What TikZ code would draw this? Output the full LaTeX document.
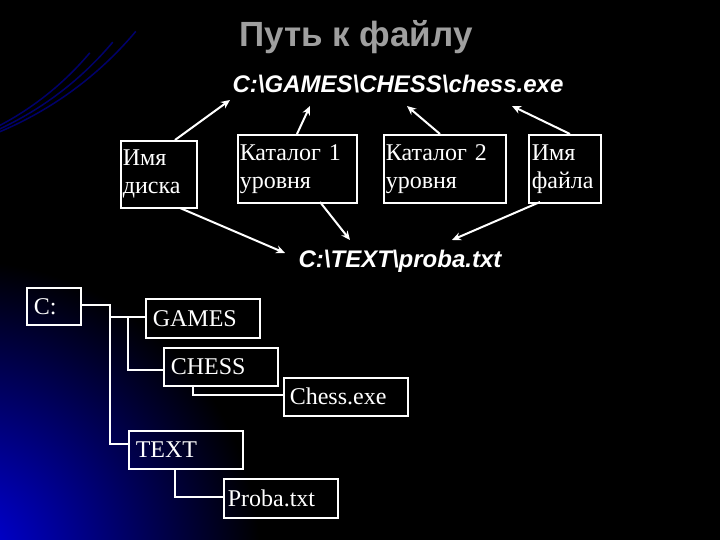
\documentclass[tikz,border=0pt]{standalone}
\usepackage{fontspec}
\usetikzlibrary{arrows.meta}
\setmainfont{Liberation Serif}
\newfontfamily\hsans{Liberation Sans}
\begin{document}
\begin{tikzpicture}[x=1pt,y=-1pt,
  box/.style={draw=white,line width=1.6pt,text=white,inner sep=0pt,anchor=north west,align=left,font=\fontsize{24}{28}\selectfont},
  wire/.style={draw=white,line width=1.6pt},
  arr/.style={draw=white,line width=2pt,-{Stealth[length=9pt,width=8pt]}}]
\fill[black] (0,0) rectangle (720,540);
\begin{scope}
\clip (0,0) rectangle (720,540);
\shade[inner color=blue!90!black,outer color=black] (-40,560) circle (300);
\foreach \r in {300,330,360}{\draw[blue!70!black,line width=1.5pt,opacity=.6] (-140,160) arc[start angle=90,end angle=40,radius=\r];}
\end{scope}
\useasboundingbox (0,0) rectangle (720,540);
\node[text=gray!75,font=\hsans\bfseries\fontsize{35}{38}\selectfont] (title) at (356,37) {Путь к файлу};
\node[text=white,font=\hsans\bfseries\itshape\fontsize{24}{26}\selectfont] (p1) at (398,84) {C:\textbackslash GAMES\textbackslash CHESS\textbackslash chess.exe};
\node[text=white,font=\hsans\bfseries\itshape\fontsize{24}{26}\selectfont] (p2) at (400,261) {C:\textbackslash TEXT\textbackslash proba.txt};
\node[box,minimum width=76,minimum height=67,text width=72,inner xsep=2] (disk) at (120,140) {Имя\\диска};
\node[box,minimum width=119,minimum height=68,text width=115,inner xsep=2] (k1) at (237,134) {Каталог 1\\уровня};
\node[box,minimum width=122,minimum height=68,text width=118,inner xsep=2] (k2) at (383,134) {Каталог 2\\уровня};
\node[box,minimum width=72,minimum height=68,text width=66,inner xsep=3] (fn) at (528,134) {Имя\\файла};
\coordinate (a1) at (230,100); \coordinate (a2) at (310,106);
\coordinate (a3) at (407,106); \coordinate (a4) at (512,106);
\coordinate (b1) at (285,253); \coordinate (b2) at (350,240); \coordinate (b3) at (452,240);
\draw[arr] (175,140) -- (a1);
\draw[arr] (297,134) -- (a2);
\draw[arr] (440,134) -- (a3);
\draw[arr] (570,134) -- (a4);
\draw[arr] (180,208) -- (b1);
\draw[arr] (320,202) -- (b2);
\draw[arr] (540,202) -- (b3);
\node[box,minimum width=54,minimum height=37,inner xsep=7,anchor=north west,text width=40] (c) at (26,287) {C:};
\node[box,minimum width=109,minimum height=39,text width=100,inner xsep=7] (games) at (145,298) {GAMES};
\node[box,minimum width=109,minimum height=38,text width=100,inner xsep=7] (chess) at (163,347) {CHESS};
\node[box,minimum width=117,minimum height=38,text width=112,inner xsep=6] (exe) at (283,377) {Chess.exe};
\node[box,minimum width=108,minimum height=38,text width=100,inner xsep=7] (text) at (128,430) {TEXT};
\node[box,minimum width=109,minimum height=39,text width=106,inner xsep=4] (proba) at (223,478) {Proba.txt};
\draw[wire] (c.east |- 0,305) -| (110,317) -- (games.west |- 0,317);
\draw[wire] (110,317) |- (text.west |- 0,444);
\draw[wire] (128,317) |- (chess.west |- 0,370);
\draw[wire] (193,385) |- (exe.west |- 0,395);
\draw[wire] (175,468) |- (proba.west |- 0,497);
\end{tikzpicture}
\end{document}
